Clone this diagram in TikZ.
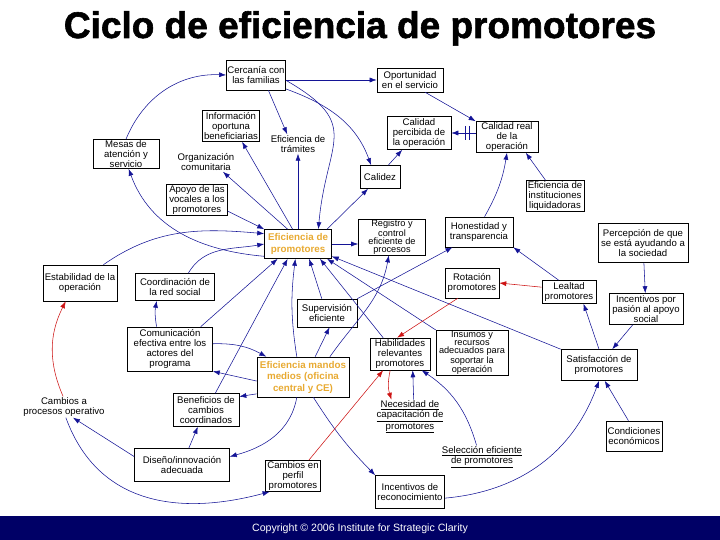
\documentclass[tikz,border=0pt]{standalone}
\usepackage{fontspec}
\setmainfont{Liberation Sans}
\newfontfamily\fuentetitulo{Liberation Sans}[BoldFeatures={FakeBold=1.6}]
\usetikzlibrary{arrows.meta}

\definecolor{azul}{RGB}{20,20,150}
\definecolor{rojo}{RGB}{205,20,20}
\definecolor{naranja}{RGB}{232,170,50}
\definecolor{marino}{RGB}{0,0,102}

\begin{document}
\begin{tikzpicture}[x=1pt, y=1pt,
    caja/.style={draw, line width=0.6pt, align=center, inner sep=1pt,
      font=\fontsize{9.6}{10}\selectfont},
    libre/.style={align=center, inner sep=1pt, font=\fontsize{9.6}{10}\selectfont},
    clave/.style={caja, text=naranja, font=\fontsize{9.8}{11.5}\selectfont\bfseries},
    apretado/.style={font=\fontsize{9.2}{8}\selectfont},
    tam/.style 2 args={minimum width=#1pt, minimum height=#2pt},
    flecha/.style={draw=azul, line width=0.55pt, -{Latex[length=7pt,width=5pt]}},
    roja/.style={flecha, draw=rojo}]
  \useasboundingbox (0,0) rectangle (720,-540);

  % titulo y pie
  \node[anchor=base, font=\fontsize{37}{40}\selectfont\fuentetitulo\bfseries] (titulo) at (360,-38) {Ciclo de eficiencia de promotores};
  \fill[marino] (0,-516) rectangle (720,-540);
  \node[anchor=base, text=white, font=\fontsize{10.6}{12}\selectfont] (pie) at (360,-531) {Copyright © 2006 Institute for Strategic Clarity};

  % variables de arriba
  \node[caja, tam={57}{30}] (cercania) at (256,-75) {Cercanía con\\las familias};
  \node[caja, tam={66}{24}] (oportunidad) at (410,-80) {Oportunidad\\en el servicio};
  \node[caja, tam={57}{31}] (informacion) at (231,-126) {Información\\oportuna\\beneficiarias};
  \node[libre] (tramites) at (298,-144) {Eficiencia de\\trámites};
  \node[caja, tam={66}{27}] (mesas) at (126,-154) {Mesas de\\atención y\\servicio};
  \node[libre] (organizacion) at (206,-162) {Organización\\comunitaria};
  \node[caja, tam={64}{33}] (percibida) at (419,-133) {Calidad\\percibida de\\la operación};
  \node[caja, tam={62}{30}] (real) at (507,-137) {Calidad real\\de la\\operación};
  \node[caja, tam={40}{23}] (calidez) at (380,-177) {Calidez};
  \node[caja, tam={61}{29}] (apoyo) at (197,-200) {Apoyo de las\\vocales a los\\promotores};
  \node[caja, tam={58}{30}] (liquidadoras) at (555,-196) {Eficiencia de\\instituciones\\liquidadoras};

  % variables del centro
  \node[clave, tam={67}{29}] (promotores) at (298,-244) {Eficiencia de\\promotores};
  \node[caja, apretado, tam={67}{34}] (registro) at (392,-237) {Registro y\\control\\eficiente de\\procesos};
  \node[caja, tam={68}{30}] (honestidad) at (479,-232) {Honestidad y\\transparencia};
  \node[caja, tam={90}{39}] (percepcion) at (643,-243) {Percepción de que\\se está ayudando a\\la sociedad};
  \node[caja, tam={74}{36}] (estabilidad) at (80,-283) {Estabilidad de la\\operación};
  \node[caja, tam={79}{27}] (coordinacion) at (175,-287) {Coordinación de\\la red social};
  \node[caja, tam={54}{30}] (rotacion) at (472,-283) {Rotación\\promotores};
  \node[caja, tam={54}{23}] (lealtad) at (569,-292) {Lealtad\\promotores};
  \node[caja, tam={74}{31}] (pasion) at (646,-309) {Incentivos por\\pasión al apoyo\\social};
  \node[caja, tam={60}{28}] (supervision) at (327,-313) {Supervisión\\eficiente};
  \node[caja, tam={85}{44}] (comunicacion) at (170,-349) {Comunicación\\efectiva entre los\\actores del\\programa};
  \node[caja, tam={60}{32}] (habilidades) at (400,-354) {Habilidades\\relevantes\\promotores};
  \node[caja, apretado, tam={72}{41}] (insumos) at (472,-353) {Insumos y\\recursos\\adecuados para\\soportar la\\operación};
  \node[caja, tam={76}{31}] (satisfaccion) at (599,-365) {Satisfacción de\\promotores};
  \node[clave, tam={92}{40}] (mandos) at (303,-377) {Eficiencia mandos\\medios (oficina\\central y CE)};

  % variables de abajo
  \node[libre] (cambiosproc) at (64,-407) {Cambios a\\procesos operativo};
  \node[caja, tam={66}{33}] (beneficios) at (206,-410) {Beneficios de\\cambios\\coordinados};
  \node[libre] (necesidad) at (410,-417) {\underline{Necesidad de}\\\underline{capacitación de}\\\underline{promotores}};
  \node[caja, tam={56}{30}] (condiciones) at (634,-436) {Condiciones\\económicos};
  \node[libre] (seleccion) at (482,-457) {\underline{Selección eficiente}\\\underline{de promotores}};
  \node[caja, tam={95}{33}] (diseno) at (182,-465) {Diseño/innovación\\adecuada};
  \node[caja, tam={55}{30}] (perfil) at (293,-476) {Cambios en\\perfil\\promotores};
  \node[caja, tam={69}{33}] (reconocimiento) at (410,-492) {Incentivos de\\reconocimiento};

  % lazo de cercania y calidad
  \draw[flecha] (mesas.north) to[bend left=35] (cercania.west);
  \draw[flecha] (cercania.east |- oportunidad.west) -- (oportunidad.west);
  \draw[flecha] (cercania.-51) -- (tramites.138);
  \draw[flecha] (cercania.-10) to[out=-30, in=85, looseness=1.5] (promotores.36);
  \draw[flecha] (cercania.-25) to[out=-20, in=110] (calidez.127);
  \draw[flecha] (oportunidad.-39) -- (real.north west);
  \draw[flecha] (calidez.55) -- (percibida.-135);
  \draw[flecha] (real.west |- percibida.east) -- coordinate[pos=0.35] (retraso) (percibida.east);
  \draw[azul, line width=0.6pt] ([shift={(-2,7)}]retraso) -- ([shift={(-2,-7)}]retraso)
    ([shift={(2,7)}]retraso) -- ([shift={(2,-7)}]retraso);
  \draw[flecha] (liquidadoras.121) -- (real.-40);
  \draw[flecha] (honestidad.70) to[bend right=10] (real.south);

  % salidas de eficiencia de promotores
  \draw[flecha] (promotores.-160) to[out=175, in=-70] (mesas.-80);
  \draw[flecha] (promotores.125) -- (organizacion.-30);
  \draw[flecha] (promotores.110) -- (informacion.-55);
  \draw[flecha] (promotores.north) -- (tramites.south);
  \draw[flecha] (promotores.27) -- (calidez);
  \draw[flecha] (promotores.east) -- (registro.west |- promotores.east);

  % entradas a eficiencia de promotores
  \draw[flecha] (estabilidad.38) to[out=35, in=175] (promotores.163);
  \draw[flecha] (coordinacion.46) to[out=60, in=-170] (promotores.west);
  \draw[flecha] (apoyo.-20) -- (promotores.north west);
  \draw[flecha] (comunicacion.36) -- (promotores.-144);
  \draw[flecha] (beneficios.61) -- (promotores.-125);
  \draw[flecha] (mandos.107) to[bend left=8] (promotores.-100);
  \draw[flecha] (supervision.110) -- (promotores.-53);
  \draw[flecha] (habilidades.136) -- (promotores.-34);
  \draw[flecha] (insumos.north west) -- (promotores.-27);
  \draw[flecha] (satisfaccion.north west) -- (promotores.-20);

  % mandos medios
  \draw[flecha] (mandos.37) to[out=55, in=-100] (registro.-100);
  \draw[flecha] (supervision.north east) -- (honestidad.-150);
  \draw[flecha] (mandos.59) -- (supervision.-80);
  \draw[flecha] (comunicacion.7) to[bend left=15] (mandos.151);
  \draw[flecha] (mandos.185) -- (comunicacion.south east);
  \draw[flecha] (mandos.200) -- (beneficios.22);
  \draw[flecha] (mandos.-107) to[out=-100, in=15] (diseno.10);
  \draw[flecha] (mandos.-63) to[bend right=6] (reconocimiento.north west);
  \draw[flecha] (comunicacion.121) to[bend left=10] (coordinacion.-143);

  % habilidades y rotacion
  \draw[roja] (rotacion.-133) -- (habilidades.100);
  \draw[roja] (habilidades.-121) to[bend right=15] (necesidad.137);
  \draw[flecha] (necesidad.78) -- (habilidades.-52);
  \draw[flecha] (seleccion.115) to[bend right=20] (habilidades.-37);
  \draw[roja] (perfil.45) -- (habilidades.-136);
  \draw[roja] (lealtad.170) -- (rotacion.east);
  \draw[flecha] (lealtad.131) -- (honestidad.south east);

  % satisfaccion
  \draw[flecha] (satisfaccion.north) -- (lealtad.-39);
  \draw[flecha] (percepcion) -- (pasion);
  \draw[flecha] (pasion) -- (satisfaccion);
  \draw[flecha] (condiciones.110) -- (satisfaccion.-70);
  \draw[flecha] (reconocimiento.-10) to[out=5, in=-110] (satisfaccion.south);

  % cambios operativos
  \draw[roja] (cambiosproc.95) to[bend left=25] (estabilidad.-128);
  \draw[flecha] (diseno.170) -- (cambiosproc.-50);
  \draw[flecha] (diseno.68) -- (beneficios.-116);
  \draw[flecha] (cambiosproc.-80) to[out=-70, in=-165, looseness=1.1] (perfil.-146);
\end{tikzpicture}
\end{document}
